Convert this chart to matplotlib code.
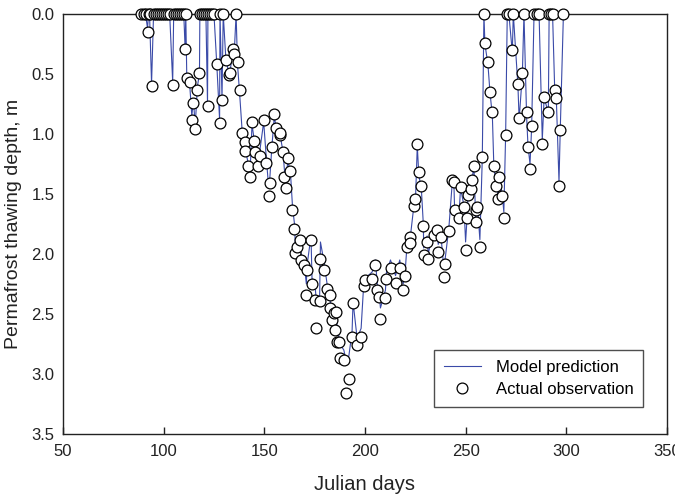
import matplotlib
matplotlib.use("Agg")
import matplotlib.pyplot as plt

plt.rcParams['font.family'] = ['Liberation Sans', 'DejaVu Sans']

obs_days = [89, 90, 91, 92, 92.5, 93, 94, 95, 96, 97, 98, 99, 100, 101, 102, 103, 104.5, 105, 106, 107,
            108, 109, 110, 110.7, 111, 111.5, 113, 114, 114.8, 115.7, 116.8, 117.8, 118, 119, 120, 121, 121.8, 122, 123, 124,
            125, 126.5, 127.8, 128, 129, 129.6, 131, 132.7, 133, 134.4, 135, 136, 136.7, 137.7, 138.9, 140.2, 140.5, 141.7, 143, 143.9,
            145, 145.5, 146.9, 147.7, 149.7, 151, 152.2, 152.7, 153.8, 155, 156, 157.6, 158, 159.3, 160, 161, 161.6, 163, 164, 165,
            165.4, 166.3, 167.9, 168.3, 169.6, 170.9, 171.2, 173.2, 173.7, 175.4, 175.9, 177.5, 177.9, 179.5, 181.2, 182.5, 182.8, 183.7, 184.5, 185.3,
            185.8, 186.2, 187, 187.5, 189.5, 190.8, 192, 193.6, 194.1, 196.1, 198.1, 199.4, 200.2, 203.6, 205.2, 206.1, 206.9, 207.7, 210.2, 210.7,
            212.7, 215.2, 217.3, 219, 220.1, 221, 222.3, 222.6, 224.3, 225.1, 226, 226.8, 228, 229, 229.2, 230.9, 231.4, 234.2, 235.9, 236.4,
            237.6, 239.2, 240, 241.7, 243.4, 244.2, 244.5, 246.7, 247.5, 249.2, 250, 250.8, 251.2, 252.5, 253.3, 254.1, 255, 255.3, 255.8, 257.1,
            258.3, 259.1, 259.6, 261.1, 262.1, 263.3, 264, 264.9, 266.1, 266.6, 268.2, 269, 269.9, 270.7, 271.5, 273.2, 273.7, 276, 276.6, 278.2,
            279, 280.3, 281, 282, 282.8, 284, 285.3, 286.5, 288.1, 289, 291.1, 291.5, 292.3, 293.2, 294.3, 295.1, 296.4, 297, 298.6]

obs_depth = [0, 0, 0, 0.15, 0, 0, 0.60, 0, 0, 0, 0, 0, 0, 0, 0, 0, 0.59, 0, 0, 0,
             0, 0, 0, 0.29, 0, 0.53, 0.57, 0.88, 0.74, 0.96, 0.63, 0.49, 0, 0, 0, 0, 0.77, 0, 0, 0,
             0, 0.42, 0.91, 0, 0.72, 0, 0.38, 0.51, 0.49, 0.29, 0.33, 0, 0.40, 0.63, 0.99, 1.07, 1.14, 1.27, 1.36, 0.90,
             1.06, 1.15, 1.27, 1.18, 0.88, 1.24, 1.52, 1.41, 1.11, 0.83, 0.95, 1.01, 0.99, 1.15, 1.36, 1.45, 1.20, 1.31, 1.63, 1.79,
             1.99, 1.94, 1.88, 2.05, 2.09, 2.34, 2.13, 1.88, 2.25, 2.38, 2.62, 2.39, 2.04, 2.13, 2.29, 2.34, 2.45, 2.55, 2.49, 2.63,
             2.48, 2.73, 2.73, 2.87, 2.88, 3.16, 3.04, 2.69, 2.41, 2.76, 2.69, 2.27, 2.22, 2.21, 2.09, 2.30, 2.36, 2.54, 2.37, 2.21,
             2.12, 2.24, 2.12, 2.30, 2.18, 1.94, 1.86, 1.91, 1.60, 1.54, 1.08, 1.32, 1.43, 1.77, 2.01, 1.90, 2.04, 1.84, 1.80, 1.98,
             1.86, 2.19, 2.08, 1.81, 1.38, 1.40, 1.63, 1.70, 1.44, 1.61, 1.97, 1.70, 1.51, 1.46, 1.38, 1.27, 1.73, 1.63, 1.61, 1.94,
             1.19, 0, 0.24, 0.40, 0.65, 0.82, 1.27, 1.43, 1.54, 1.36, 1.52, 1.70, 1.01, 0, 0, 0.30, 0, 0.58, 0.87, 0.49,
             0, 0.82, 1.11, 1.29, 0.93, 0, 0, 0, 1.08, 0.69, 0.82, 0, 0, 0, 0.63, 0.70, 1.43, 0.97, 0]

model_depth = [0, 0, 0, 0.12, 0, 0, 0.58, 0, 0, 0, 0, 0, 0, 0, 0, 0, 0.57, 0, 0, 0,
               0, 0, 0, 0.30, 0, 0.52, 0.60, 0.85, 0.72, 0.93, 0.60, 0.50, 0, 0, 0, 0, 0.75, 0, 0, 0,
               0, 0.45, 0.88, 0, 0.70, 0, 0.40, 0.50, 0.48, 0.30, 0.35, 0, 0.42, 0.65, 0.95, 1.05, 1.12, 1.22, 1.30, 0.92,
               1.05, 1.12, 1.22, 1.15, 0.90, 1.20, 1.45, 1.38, 1.10, 0.85, 0.97, 1.00, 1.02, 1.15, 1.30, 1.40, 1.22, 1.32, 1.60, 1.75,
               1.92, 1.90, 1.85, 2.00, 2.05, 2.25, 2.10, 1.85, 2.20, 2.30, 2.40, 2.35, 1.90, 2.05, 2.25, 2.30, 2.40, 2.48, 2.45, 2.58,
               2.45, 2.65, 2.68, 2.75, 2.80, 2.90, 2.85, 2.65, 2.40, 2.70, 2.62, 2.25, 2.20, 2.15, 2.05, 2.25, 2.30, 2.45, 2.30, 2.15,
               2.05, 2.18, 2.05, 2.25, 2.12, 1.90, 1.82, 1.85, 1.60, 1.55, 1.10, 1.35, 1.45, 1.75, 1.95, 1.85, 2.00, 1.80, 1.78, 1.92,
               1.82, 2.12, 2.02, 1.78, 1.40, 1.42, 1.60, 1.68, 1.45, 1.60, 1.90, 1.68, 1.50, 1.45, 1.38, 1.25, 1.70, 1.60, 1.58, 1.88,
               1.20, 0, 0.25, 0.42, 0.65, 0.85, 1.25, 1.40, 1.50, 1.35, 1.50, 1.65, 1.00, 0, 0, 0.32, 0, 0.60, 0.88, 0.50,
               0, 0.85, 1.10, 1.25, 0.95, 0, 0, 0, 1.05, 0.70, 0.82, 0, 0, 0, 0.65, 0.72, 1.40, 0.98, 0]

x_ticks = [50, 100, 150, 200, 250, 300, 350]
y_ticks = [0.0, 0.5, 1.0, 1.5, 2.0, 2.5, 3.0, 3.5]

fig = plt.figure(figsize=(6.75, 4.99), dpi=100)
ax = fig.add_axes([0.0933, 0.1303, 0.8947, 0.8417])

ax.plot(obs_days, model_depth, color='#3a4aa8', lw=0.8, label='Model prediction', zorder=2)
ax.plot(obs_days, obs_depth, linestyle='none', marker='o', markersize=7.8,
        markerfacecolor='white', markeredgecolor='black', markeredgewidth=0.9,
        label='Actual observation', zorder=3, clip_on=False)

ax.set_xlim(50, 350)
ax.set_ylim(3.5, 0.0)
ax.set_xticks(x_ticks)
ax.set_xticklabels([str(t) for t in x_ticks])
ax.set_yticks(y_ticks)
ax.set_yticklabels(['%.1f' % t for t in y_ticks])

for s in ax.spines.values():
    s.set_linewidth(1.0)
    s.set_color('#222222')

ax.tick_params(axis='x', direction='in', length=5, width=1, labelsize=12, pad=7, colors='#222222')
ax.tick_params(axis='y', direction='in', length=0, labelsize=12, pad=6, colors='#222222')

ax.set_xlabel('Julian days', fontsize=14.5, labelpad=12, color='#222222')
ax.set_ylabel('Permafrost thawing depth, m', fontsize=14, labelpad=7, color='#222222')

leg = ax.legend(loc='lower right', bbox_to_anchor=(0.961, 0.065), frameon=True, fancybox=False,
                fontsize=12, handlelength=2.2, borderpad=0.6, labelspacing=0.4, handletextpad=0.9,
                borderaxespad=0)
leg.get_frame().set_edgecolor('#222222')
leg.get_frame().set_linewidth(1.0)

fig.savefig('out.png', dpi=100)
